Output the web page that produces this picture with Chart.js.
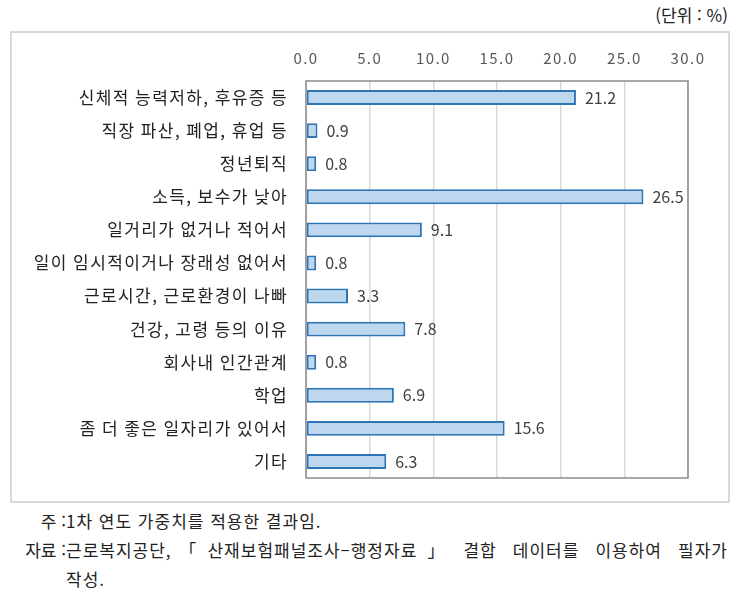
<!DOCTYPE html>
<html lang="ko">
<head>
  <meta charset="UTF-8">
  <title>이직 사유</title>
  <script src="https://cdn.jsdelivr.net/npm/chart.js"></script>
  <style>
    body { margin: 0; background: #fff; font-family: "Noto Sans CJK KR", sans-serif; }
    #unit { position: absolute; left: 600px; top: 2px; width: 128px; text-align: right; font-size: 17px; color: #222; }
    #box { position: absolute; left: 10px; top: 31px; width: 716px; height: 468px; border: 2px solid #d9d9d9; }
    #notes { position: absolute; left: 12px; top: 506px; width: 716px; font-size: 17px; color: #222; line-height: 29px; letter-spacing: 1px; }
    .row { display: flex; }
    .lab { width: 54px; text-align: right; white-space: nowrap; letter-spacing: 0; }
    .txt { flex: 1; }
    .just { text-align: justify; text-align-last: justify; }
  </style>
</head>
<body>
  <div id="unit">(단위 : %)</div>
  <div id="box"><canvas id="chart" width="716" height="468"></canvas></div>
  <div id="notes">
    <div class="row"><span class="lab">주 : </span><span class="txt">1차 연도 가중치를 적용한 결과임.</span></div>
    <div class="row"><span class="lab">자료 : </span><span class="txt just">근로복지공단, ｢산재보험패널조사–행정자료｣ 결합 데이터를 이용하여 필자가</span></div>
    <div class="row"><span class="lab"></span><span class="txt">작성.</span></div>
  </div>
  <script>
    const categories = [
      '신체적 능력저하, 후유증 등',
      '직장 파산, 폐업, 휴업 등',
      '정년퇴직',
      '소득, 보수가 낮아',
      '일거리가 없거나 적어서',
      '일이 임시적이거나 장래성 없어서',
      '근로시간, 근로환경이 나빠',
      '건강, 고령 등의 이유',
      '회사내 인간관계',
      '학업',
      '좀 더 좋은 일자리가 있어서',
      '기타'
    ];
    const values = [21.2, 0.9, 0.8, 26.5, 9.1, 0.8, 3.3, 7.8, 0.8, 6.9, 15.6, 6.3];
    const tickValues = [0, 5, 10, 15, 20, 25, 30];

    // wider spacing for the category labels, like the original Gulim text
    const spacing = {
      id: 'spacing',
      beforeDraw(chart) { chart.ctx.letterSpacing = '1.4px'; },
      afterDraw(chart) { chart.ctx.letterSpacing = '0px'; }
    };

    const valueLabels = {
      id: 'valueLabels',
      afterDatasetsDraw(chart) {
        const ctx = chart.ctx;
        const meta = chart.getDatasetMeta(0);
        ctx.save();
        ctx.letterSpacing = '0px';
        ctx.font = '16px "Noto Sans CJK KR", sans-serif';
        ctx.fillStyle = '#404040';
        ctx.textBaseline = 'middle';
        ctx.textAlign = 'left';
        meta.data.forEach((bar, i) => {
          ctx.fillText(values[i].toFixed(1), bar.x + 9, bar.y);
        });
        ctx.restore();
      }
    };

    const plotFrame = {
      id: 'plotFrame',
      afterDraw(chart) {
        const a = chart.chartArea;
        const ctx = chart.ctx;
        ctx.save();
        ctx.strokeStyle = '#8c8c8c';
        ctx.lineWidth = 1.5;
        ctx.strokeRect(a.left, a.top, a.right - a.left, a.bottom - a.top);
        ctx.restore();
      }
    };

    new Chart(document.getElementById('chart'), {
      type: 'bar',
      data: {
        labels: categories,
        datasets: [{
          data: values,
          backgroundColor: '#bdd7ee',
          borderColor: '#2e75b6',
          borderWidth: 2,
          borderSkipped: false,
          barPercentage: 0.45,
          categoryPercentage: 1
        }]
      },
      options: {
        indexAxis: 'y',
        responsive: false,
        animation: false,
        layout: { padding: { left: 0, right: 40, top: 0, bottom: 23 } },
        plugins: { legend: { display: false }, tooltip: { enabled: false } },
        scales: {
          x: {
            position: 'top',
            min: 0,
            max: 30,
            afterBuildTicks(scale) { scale.ticks = tickValues.map(v => ({ value: v })); },
            afterFit(scale) { scale.height = 48; },
            grid: { color: '#d9d9d9', lineWidth: 1.5, drawTicks: false },
            border: { display: false },
            ticks: {
              padding: 14,
              color: '#595959',
              font: { size: 15, family: '"Noto Sans CJK KR", sans-serif' },
              callback: v => Number(v).toFixed(1)
            }
          },
          y: {
            afterFit(scale) { scale.width = 294; },
            grid: { display: false },
            border: { display: false },
            ticks: {
              padding: 10,
              color: '#222',
              font: { size: 17, family: '"Noto Sans CJK KR", sans-serif' }
            }
          }
        }
      },
      plugins: [spacing, valueLabels, plotFrame]
    });
  </script>
</body>
</html>
